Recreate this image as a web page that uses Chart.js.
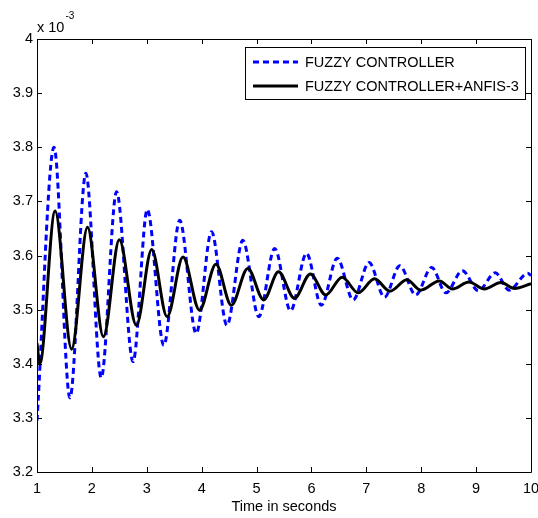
<!DOCTYPE html>
<html>
<head>
<meta charset="utf-8">
<script src="https://cdn.jsdelivr.net/npm/chart.js@4/dist/chart.umd.min.js"></script>
<style>
  html, body { margin: 0; padding: 0; background: #ffffff; }
  #wrap { width: 538px; height: 518px; position: relative; }
</style>
</head>
<body>
<div id="wrap"><canvas id="c" width="538" height="518"></canvas></div>
<script>
// ---- data (values in units of 1e-3) ----
const seriesLabels = ['FUZZY CONTROLLER', 'FUZZY CONTROLLER+ANFIS-3'];

const fuzzyX = [1.00, 1.31, 1.60, 1.89, 2.17, 2.45, 2.75, 3.01, 3.31, 3.60, 3.90, 4.18, 4.46, 4.75, 5.04, 5.33, 5.62, 5.91, 6.18, 6.47, 6.76, 7.05, 7.33, 7.61, 7.90, 8.19, 8.45, 8.75, 9.04, 9.35, 9.60, 9.94, 10.00];
const fuzzyY = [3.295, 3.800, 3.337, 3.752, 3.374, 3.718, 3.404, 3.685, 3.434, 3.665, 3.456, 3.644, 3.471, 3.628, 3.487, 3.613, 3.498, 3.604, 3.508, 3.595, 3.518, 3.587, 3.523, 3.581, 3.527, 3.578, 3.531, 3.572, 3.535, 3.568, 3.536, 3.567, 3.563];

const anfisX = [1.00, 1.05, 1.33, 1.63, 1.92, 2.21, 2.50, 2.81, 3.09, 3.37, 3.66, 3.96, 4.26, 4.54, 4.84, 5.13, 5.40, 5.69, 5.98, 6.26, 6.56, 6.85, 7.15, 7.43, 7.74, 7.99, 8.33, 8.57, 8.87, 9.15, 9.45, 9.70, 10.00];
const anfisY = [3.438, 3.400, 3.682, 3.427, 3.652, 3.450, 3.629, 3.471, 3.611, 3.487, 3.597, 3.499, 3.584, 3.508, 3.576, 3.518, 3.570, 3.521, 3.566, 3.527, 3.560, 3.531, 3.557, 3.534, 3.555, 3.536, 3.553, 3.538, 3.551, 3.538, 3.550, 3.539, 3.548];

const xTicks = [1, 2, 3, 4, 5, 6, 7, 8, 9, 10];
const yTicks = [3.2, 3.3, 3.4, 3.5, 3.6, 3.7, 3.8, 3.9, 4.0];
const xTitle = 'Time in seconds';
const yExpBase = 'x 10';
const yExpPow = '-3';

const FONT = '"Liberation Sans", Arial, sans-serif';

function pts(xs, ys) { return xs.map((x, i) => ({ x: x, y: ys[i] })); }

// frame, inward ticks, exponent label, legend
const decor = {
  id: 'decor',
  afterDatasetsDraw(chart) {
    const ctx = chart.ctx;
    const a = chart.chartArea;
    const xs = chart.scales.x, ys = chart.scales.y;
    ctx.save();
    ctx.strokeStyle = '#000';
    ctx.lineWidth = 1;
    ctx.beginPath();
    ctx.rect(Math.round(a.left) + 0.5, Math.round(a.top) + 0.5, Math.round(a.right - a.left), Math.round(a.bottom - a.top));
    ctx.stroke();
    const tl = 5;
    ctx.beginPath();
    xTicks.forEach(v => {
      const px = Math.round(xs.getPixelForValue(v)) + 0.5;
      ctx.moveTo(px, a.bottom); ctx.lineTo(px, a.bottom - tl);
      ctx.moveTo(px, a.top); ctx.lineTo(px, a.top + tl);
    });
    yTicks.forEach(v => {
      const py = Math.round(ys.getPixelForValue(v)) + 0.5;
      ctx.moveTo(a.left, py); ctx.lineTo(a.left + tl, py);
      ctx.moveTo(a.right, py); ctx.lineTo(a.right - tl, py);
    });
    ctx.stroke();

    // exponent label
    ctx.fillStyle = '#000';
    ctx.textBaseline = 'alphabetic';
    ctx.textAlign = 'left';
    ctx.font = '14.5px ' + FONT;
    ctx.fillText(yExpBase, a.left, a.top - 7);
    const w = ctx.measureText(yExpBase).width;
    ctx.font = '10px ' + FONT;
    ctx.fillText(yExpPow, a.left + w + 1, a.top - 20);

    // legend
    const lx = 245, ly = 47, lw = 280, lh = 52;
    ctx.fillStyle = '#fff';
    ctx.fillRect(lx, ly, lw, lh);
    ctx.strokeStyle = '#000';
    ctx.lineWidth = 1;
    ctx.strokeRect(lx + 0.5, ly + 0.5, lw, lh);
    chart.data.datasets.forEach((ds, i) => {
      const yy = ly + 15 + i * 24;
      ctx.strokeStyle = ds.borderColor;
      ctx.lineWidth = ds.borderWidth;
      ctx.setLineDash(ds.borderDash || []);
      ctx.beginPath();
      ctx.moveTo(lx + 8, yy);
      ctx.lineTo(lx + 53, yy);
      ctx.stroke();
      ctx.setLineDash([]);
      ctx.fillStyle = '#000';
      ctx.font = '14.5px ' + FONT;
      ctx.textBaseline = 'middle';
      ctx.fillText(ds.label, lx + 60, yy + 1);
    });
    ctx.restore();
  }
};

new Chart(document.getElementById('c'), {
  type: 'line',
  data: {
    datasets: [
      {
        label: seriesLabels[0],
        data: pts(fuzzyX, fuzzyY),
        borderColor: '#0000ff',
        borderWidth: 3,
        borderDash: [6, 4],
        pointRadius: 0,
        fill: false,
        cubicInterpolationMode: 'monotone',
        order: 1
      },
      {
        label: seriesLabels[1],
        data: pts(anfisX, anfisY),
        borderColor: '#000000',
        borderWidth: 3,
        pointRadius: 0,
        fill: false,
        cubicInterpolationMode: 'monotone',
        order: 0
      }
    ]
  },
  options: {
    responsive: false,
    animation: false,
    layout: { padding: { left: 0, top: 39, right: 7, bottom: 0 } },
    plugins: { legend: { display: false }, tooltip: { enabled: false } },
    scales: {
      x: {
        type: 'linear',
        min: 1, max: 10,
        afterBuildTicks(s) { s.ticks = xTicks.map(v => ({ value: v })); },
        afterFit(s) { s.height = 46; s.paddingLeft = 0; s.paddingRight = 0; },
        grid: { display: false, drawTicks: false },
        border: { display: false },
        ticks: { color: '#000', font: { family: FONT, size: 14.5 }, padding: 8, maxRotation: 0, callback: v => String(v) },
        title: { display: true, text: xTitle, color: '#000', font: { family: FONT, size: 14.5 }, padding: { top: 0, bottom: 2 } }
      },
      y: {
        type: 'linear',
        min: 3.2, max: 4,
        afterBuildTicks(s) { s.ticks = yTicks.map(v => ({ value: v })); },
        afterFit(s) { s.width = 37; s.paddingTop = 0; s.paddingBottom = 0; },
        grid: { display: false, drawTicks: false },
        border: { display: false },
        ticks: { color: '#000', font: { family: FONT, size: 14.5 }, padding: 4, callback: v => (Math.round(v * 10) / 10).toString() }
      }
    }
  },
  plugins: [decor]
});
</script>
</body>
</html>
